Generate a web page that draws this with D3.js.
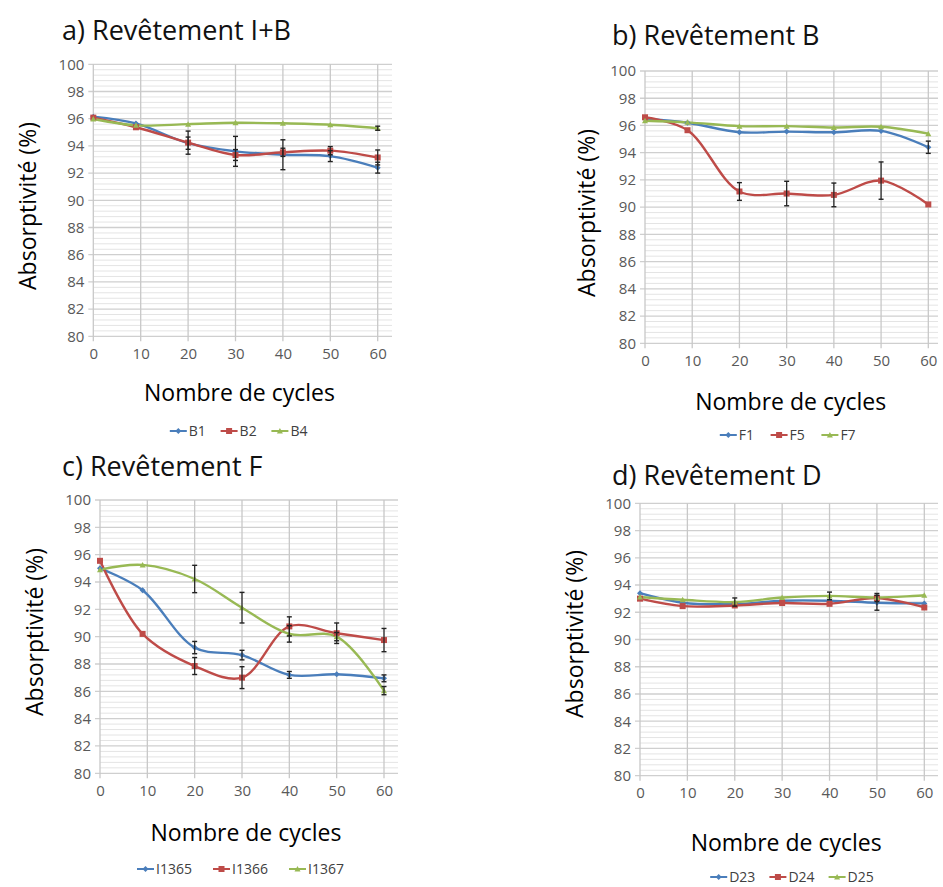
<!DOCTYPE html>
<html><head><meta charset="utf-8">
<script src="https://cdn.jsdelivr.net/npm/d3@7"></script>
<style>body{margin:0;background:#fff}svg{display:block}text{font-family:"Open Sans",Lato,sans-serif}</style>
</head><body>
<svg id="c" width="943" height="887"></svg>
<script>
// ---- data ----
const cycles = [0, 9, 20, 30, 40, 50, 60];
const xTicks = [0, 10, 20, 30, 40, 50, 60];
const yTicks = [80, 82, 84, 86, 88, 90, 92, 94, 96, 98, 100];

const titles = ["a) Revêtement I+B", "b) Revêtement B", "c) Revêtement F", "d) Revêtement D"];
const namesA = ["B1", "B2", "B4"];
const namesB = ["F1", "F5", "F7"];
const namesC = ["I1365", "I1366", "I1367"];
const namesD = ["D23", "D24", "D25"];

const B1 = [96.15, 95.65, 94.2, 93.6, 93.35, 93.25, 92.4];
const B2 = [96.08, 95.37, 94.24, 93.33, 93.53, 93.65, 93.15];
const B4 = [95.98, 95.51, 95.6, 95.7, 95.66, 95.55, 95.3];
const errB1 = [0, 0, 0.45, 1.1, 1.1, 0.4, 0.4];
const errB2 = [0, 0, 0.85, 0.4, 0.3, 0.3, 0.55];
const errB4 = [0, 0, 0, 0, 0, 0, 0.15];

const F1 = [96.5, 96.2, 95.5, 95.55, 95.5, 95.6, 94.4];
const F5 = [96.6, 95.65, 91.15, 91.0, 90.9, 91.95, 90.2];
const F7 = [96.35, 96.23, 95.95, 95.95, 95.85, 95.9, 95.4];
const errF1 = [0, 0, 0, 0, 0, 0, 0.45];
const errF5 = [0, 0, 0.65, 0.9, 0.87, 1.37, 0];
const errF7 = [0, 0, 0, 0, 0, 0, 0];

const I1365 = [95.0, 93.4, 89.2, 88.65, 87.2, 87.25, 86.95];
const I1366 = [95.55, 90.2, 87.85, 87.0, 90.75, 90.25, 89.75];
const I1367 = [94.9, 95.25, 94.22, 92.12, 90.2, 90.0, 86.05];
const err1365 = [0, 0, 0.45, 0.35, 0.25, 0, 0.25];
const err1366 = [0, 0, 0.62, 0.8, 0.7, 0.75, 0.85];
const err1367 = [0, 0, 1.0, 1.12, 0.6, 0.3, 0.3];

const D23 = [93.4, 92.7, 92.6, 92.85, 92.85, 92.7, 92.65];
const D24 = [93.0, 92.45, 92.5, 92.68, 92.62, 93.05, 92.35];
const D25 = [93.12, 92.92, 92.75, 93.08, 93.2, 93.08, 93.25];
const err23 = [0, 0, 0, 0, 0, 0.55, 0];
const err24 = [0, 0, 0, 0, 0, 0, 0];
const err25 = [0, 0, 0.3, 0, 0.28, 0.3, 0];

const colors = ["#4A7EBB", "#BE4B48", "#98B954"];

// ---- layout ----
const panels = [
  {title: titles[0], names: namesA, series: [B1, B2, B4], errs: [errB1, errB2, errB4],
   x0: 93.3, x60: 377.7, xr: 392, yt: 64.3, yb: 336.3, tx: 62, ty: 40, ylx: 36, yly: 206,
   xtitY: 401, legY: 431, legX: 240},
  {title: titles[1], names: namesB, series: [F1, F5, F7], errs: [errF1, errF5, errF7],
   x0: 645, x60: 928.3, xr: 938, yt: 71, yb: 343.3, tx: 612, ty: 45, ylx: 595, yly: 213,
   xtitY: 410, legY: 435, legX: 790},
  {title: titles[2], names: namesC, series: [I1365, I1366, I1367], errs: [err1365, err1366, err1367],
   x0: 100, x60: 384, xr: 398, yt: 500, yb: 773.3, tx: 62, ty: 476, ylx: 43, yly: 632,
   xtitY: 841, legY: 869, legX: 245},
  {title: titles[3], names: namesD, series: [D23, D24, D25], errs: [err23, err24, err25],
   x0: 640, x60: 924.3, xr: 938, yt: 503.3, yb: 775.7, tx: 612, ty: 485, ylx: 583, yly: 634,
   xtitY: 851, legY: 877, legX: 793}
];

const svg = d3.select("#c");

function marker(g, i, x, y) {
  const c = colors[i];
  if (i === 0) {
    g.append("path").attr("d", `M${x},${y-3}L${x+3},${y}L${x},${y+3}L${x-3},${y}Z`).attr("fill", c);
  } else if (i === 1) {
    g.append("rect").attr("x", x-3).attr("y", y-3).attr("width", 6).attr("height", 6).attr("fill", c);
  } else {
    g.append("path").attr("d", `M${x},${y-3}L${x+3},${y+2.5}L${x-3},${y+2.5}Z`).attr("fill", c);
  }
}

panels.forEach(p => {
  const x = d3.scaleLinear().domain([0, 60]).range([p.x0, p.x60]);
  const xMax = x.invert(p.xr);
  const y = d3.scaleLinear().domain([80, 100]).range([p.yb, p.yt]);
  const g = svg.append("g");

  const minor = d3.range(0, 51).map(k => 80 + k * 0.4).filter(v => Math.abs(v / 2 - Math.round(v / 2)) > 0.01);
  g.append("g").selectAll("line").data(minor).join("line")
    .attr("x1", x(0)).attr("x2", x(xMax)).attr("y1", d => y(d)).attr("y2", d => y(d))
    .attr("stroke", "#e4e4e4").attr("stroke-width", 1);
  g.append("g").selectAll("line").data(yTicks).join("line")
    .attr("x1", x(0) - 5).attr("x2", x(xMax)).attr("y1", d => y(d)).attr("y2", d => y(d))
    .attr("stroke", "#cfcfcf").attr("stroke-width", 1.3);
  g.append("g").selectAll("line").data(xTicks).join("line")
    .attr("x1", d => x(d)).attr("x2", d => x(d)).attr("y1", y(100)).attr("y2", y(80) + 5)
    .attr("stroke", "#c8c8c8").attr("stroke-width", 1.3);

  const yAxis = d3.axisLeft(y).tickValues(yTicks).tickSize(0).tickPadding(9);
  const ya = g.append("g").attr("transform", `translate(${x(0)},0)`).call(yAxis);
  ya.select(".domain").remove();
  ya.selectAll("text").attr("font-size", 15).attr("fill", "#595959").attr("font-family", "Lato, sans-serif");
  const xAxis = d3.axisBottom(x).tickValues(xTicks).tickSize(0).tickPadding(12);
  const xa = g.append("g").attr("transform", `translate(0,${y(80)})`).call(xAxis);
  xa.select(".domain").remove();
  xa.selectAll("text").attr("font-size", 15).attr("fill", "#595959").attr("font-family", "Lato, sans-serif");

  const line = d3.line().x((d, i) => x(cycles[i])).y(d => y(d)).curve(d3.curveCatmullRom.alpha(0.5));
  p.series.forEach((s, si) => {
    g.append("path").datum(s).attr("d", line).attr("fill", "none")
      .attr("stroke", colors[si]).attr("stroke-width", 2.4).attr("stroke-linejoin", "round");
  });
  p.series.forEach((s, si) => {
    s.forEach((v, i) => marker(g, si, x(cycles[i]), y(v)));
  });
  p.series.forEach((s, si) => {
    const e = p.errs[si];
    s.forEach((v, i) => {
      if (!e[i]) return;
      const cx = x(cycles[i]);
      g.append("line").attr("x1", cx).attr("x2", cx).attr("y1", y(v + e[i])).attr("y2", y(v - e[i]))
        .attr("stroke", "#222").attr("stroke-width", 1.2);
      [v + e[i], v - e[i]].forEach(t => g.append("line").attr("x1", cx - 2.5).attr("x2", cx + 2.5)
        .attr("y1", y(t)).attr("y2", y(t)).attr("stroke", "#222").attr("stroke-width", 1.4));
    });
  });

  svg.append("text").attr("x", p.tx).attr("y", p.ty).attr("font-size", 27).attr("fill", "#111").text(p.title);
  svg.append("text").attr("transform", `translate(${p.ylx},${p.yly}) rotate(-90)`).attr("text-anchor", "middle")
    .attr("font-size", 23).attr("fill", "#000").text("Absorptivité (%)");
  svg.append("text").attr("x", (p.x0 + p.x60) / 2 + 4).attr("y", p.xtitY).attr("text-anchor", "middle")
    .attr("font-size", 23).attr("fill", "#000").text("Nombre de cycles");

  const lg = svg.append("g");
  const widths = p.names.map(n => n.length * 8.4 + 22);
  const total = d3.sum(widths) + 12 * (p.names.length - 1);
  let lx = p.legX - total / 2;
  p.names.forEach((n, i) => {
    lg.append("line").attr("x1", lx).attr("x2", lx + 17).attr("y1", p.legY).attr("y2", p.legY)
      .attr("stroke", colors[i]).attr("stroke-width", 2);
    marker(lg, i, lx + 8.5, p.legY);
    lg.append("text").attr("x", lx + 19).attr("y", p.legY + 5).attr("font-size", 14).attr("fill", "#404040")
      .attr("font-family", "Lato, sans-serif").text(n);
    lx += widths[i] + 12;
  });
});
</script>
</body></html>
